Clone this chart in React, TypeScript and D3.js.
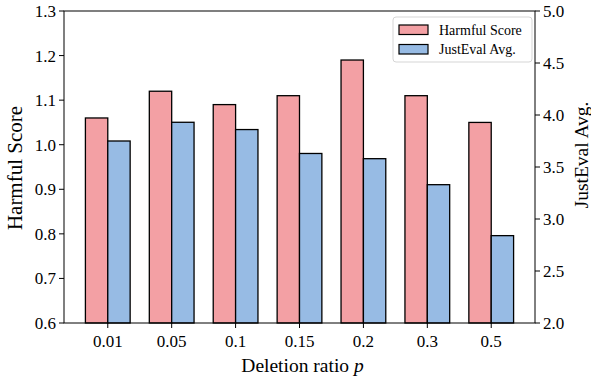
import React from 'react';
import * as d3 from 'd3';

const ratios = ['0.01', '0.05', '0.1', '0.15', '0.2', '0.3', '0.5'];
const harmfulScore = [1.06, 1.12, 1.09, 1.11, 1.19, 1.11, 1.05];
const justEvalAvg = [3.75, 3.93, 3.86, 3.63, 3.58, 3.33, 2.84];
const leftTicks = [0.6, 0.7, 0.8, 0.9, 1.0, 1.1, 1.2, 1.3];
const rightTicks = [2.0, 2.5, 3.0, 3.5, 4.0, 4.5, 5.0];

const W = 591;
const H = 383;
const margin = { top: 11, right: 56, bottom: 60, left: 64 };
const FONT = '"Liberation Serif", "Times New Roman", serif';
const PINK = '#f3a0a4';
const BLUE = '#97bbe4';
const barW = 0.35;

const App = () => {
  const x0 = margin.left;
  const x1 = W - margin.right;
  const y0 = H - margin.bottom;
  const y1 = margin.top;

  const x = d3.scaleLinear().domain([-0.685, ratios.length - 1 + 0.685]).range([x0, x1]);
  const yL = d3.scaleLinear().domain([0.6, 1.3]).range([y0, y1]);
  const yR = d3.scaleLinear().domain([2.0, 5.0]).range([y0, y1]);

  return (
    <svg width={W} height={H} style={{ position: 'absolute', left: 0, top: 0 }} fontFamily={FONT}>
      <rect width={W} height={H} fill="#fff" />
      {/* bars */}
      {ratios.map((r, i) => (
        <g key={r}>
          <rect
            x={x(i - barW)}
            y={yL(harmfulScore[i])}
            width={x(barW) - x(0)}
            height={y0 - yL(harmfulScore[i])}
            fill={PINK}
            stroke="#000"
            strokeWidth={1.3}
          />
          <rect
            x={x(i)}
            y={yR(justEvalAvg[i])}
            width={x(barW) - x(0)}
            height={y0 - yR(justEvalAvg[i])}
            fill={BLUE}
            stroke="#000"
            strokeWidth={1.3}
          />
        </g>
      ))}
      {/* frame */}
      <rect x={x0} y={y1} width={x1 - x0} height={y0 - y1} fill="none" stroke="#000" strokeWidth={1} />
      {/* left axis */}
      {leftTicks.map(t => (
        <g key={'l' + t}>
          <line x1={x0 - 5} x2={x0} y1={yL(t)} y2={yL(t)} stroke="#000" />
          <text x={x0 - 8} y={yL(t)} dy="0.35em" textAnchor="end" fontSize={17}>
            {t.toFixed(1)}
          </text>
        </g>
      ))}
      {/* right axis */}
      {rightTicks.map(t => (
        <g key={'r' + t}>
          <line x1={x1} x2={x1 + 5} y1={yR(t)} y2={yR(t)} stroke="#000" />
          <text x={x1 + 8} y={yR(t)} dy="0.35em" textAnchor="start" fontSize={17}>
            {t.toFixed(1)}
          </text>
        </g>
      ))}
      {/* x axis */}
      {ratios.map((r, i) => (
        <g key={'x' + r}>
          <line x1={x(i)} x2={x(i)} y1={y0} y2={y0 + 5} stroke="#000" />
          <text x={x(i)} y={y0 + 24} textAnchor="middle" fontSize={17}>
            {r}
          </text>
        </g>
      ))}
      <text x={(x0 + x1) / 2 + 3} y={372} textAnchor="middle" fontSize={19.5}>
        Deletion ratio <tspan fontStyle="italic">p</tspan>
      </text>
      <text transform={`translate(22,168) rotate(-90)`} textAnchor="middle" fontSize={21}>
        Harmful Score
      </text>
      <text transform={`translate(588,155) rotate(-90)`} textAnchor="middle" fontSize={19.5}>
        JustEval Avg.
      </text>
      {/* legend */}
      <g>
        <rect x={393} y={17} width={139} height={45} rx={3} fill="#fff" fillOpacity={0.8} stroke="#d5d5d5" />
        <rect x={399} y={25} width={29} height={9.5} fill={PINK} stroke="#000" strokeWidth={1.2} />
        <text x={439} y={30} dy="0.35em" fontSize={14}>Harmful Score</text>
        <rect x={399} y={44.5} width={29} height={9.5} fill={BLUE} stroke="#000" strokeWidth={1.2} />
        <text x={439} y={49.5} dy="0.35em" fontSize={14}>JustEval Avg.</text>
      </g>
    </svg>
  );
};

export default App;
